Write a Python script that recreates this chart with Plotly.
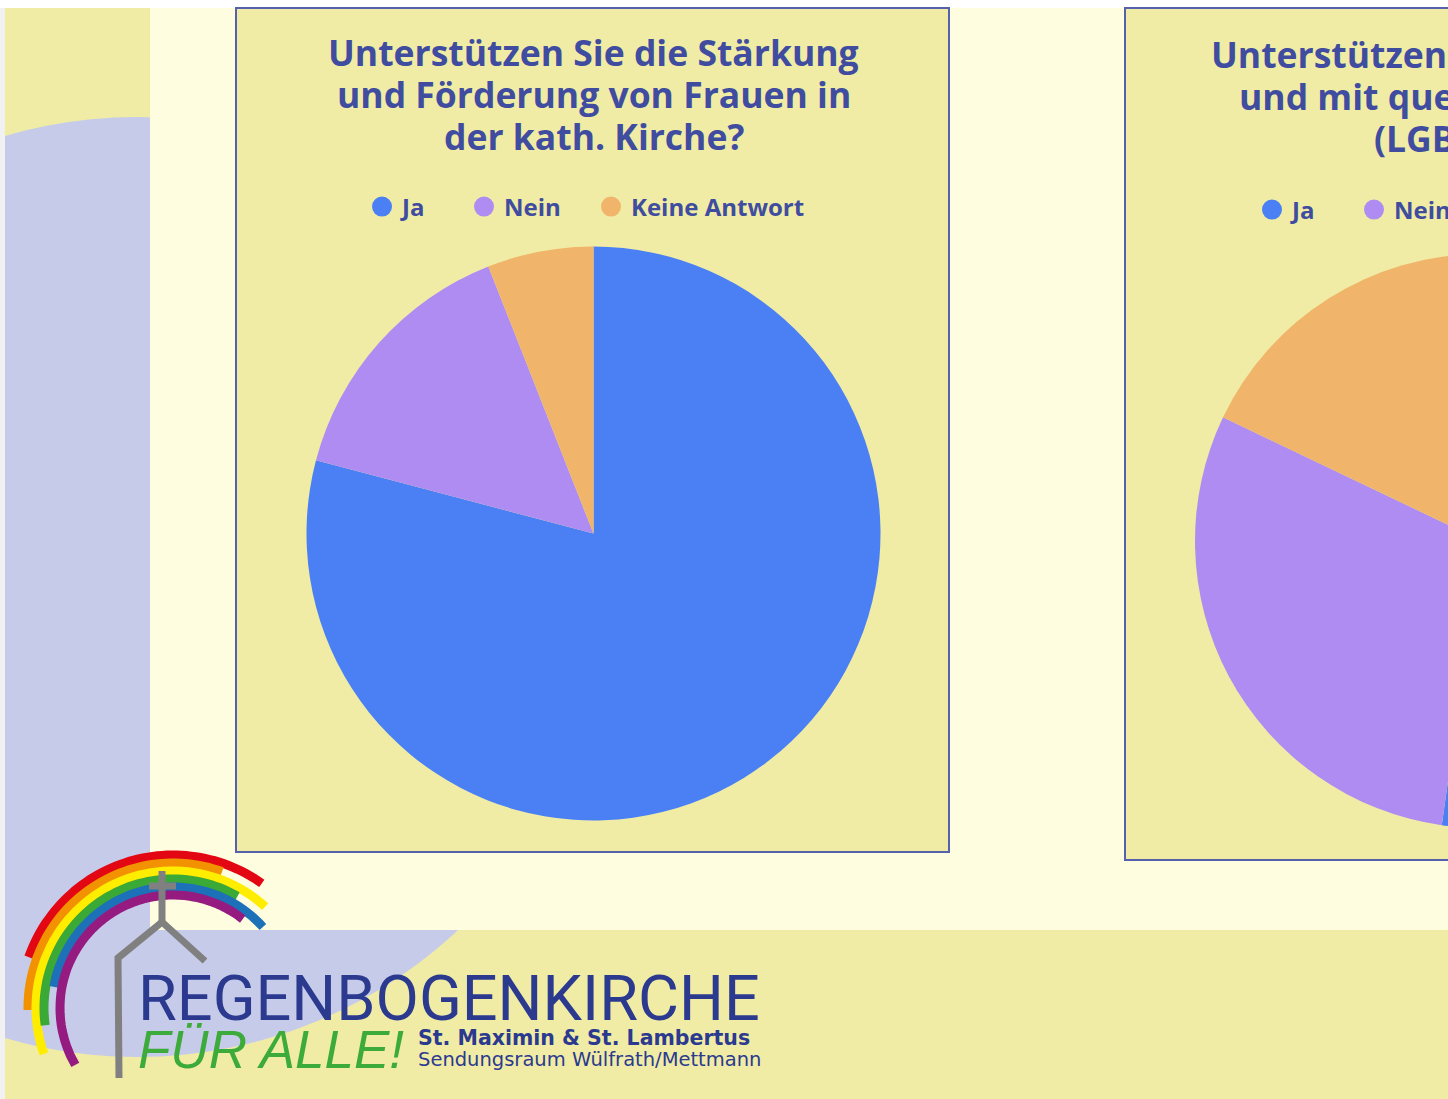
import numpy as np
import plotly.graph_objects as go

# ---------------- data ----------------
labels = ["Ja", "Nein", "Keine Antwort"]
values_frauen = [53, 10, 4]
values_queer = [35, 20, 12]
colors = ["#4b80f5", "#ae8cf2", "#f0b56a"]

title1_lines = ["Unterstützen Sie die Stärkung", "und Förderung von Frauen in", "der kath. Kirche?"]
title2_lines = ["Unterstützen Sie die Arbeit für", "und mit queeren Menschen", "(LGBTQIA+)?"]

logo_name = "REGENBOGENKIRCHE"
logo_slogan = "FÜR ALLE!"
logo_line1 = "St. Maximin & St. Lambertus"
logo_line2 = "Sendungsraum Wülfrath/Mettmann"

# ---------------- canvas ----------------
W, H = 1840, 1099
TITLE_C = "#3f4c9f"
YEL = "#f0eca5"
CREAM = "#fffddf"
LAV = "#c7cbea"
BORDER = "#5661ae"
FONT = "Open Sans"


def px_x(v):
    return v / W


def px_y(v):
    return 1 - v / H


fig = go.Figure()

# pies
def add_pie(vals, cx, cy, r):
    fig.add_trace(go.Pie(
        labels=labels, values=vals, sort=False, direction="clockwise", rotation=0,
        marker=dict(colors=colors, line=dict(width=0)),
        textinfo="none", showlegend=False,
        domain=dict(x=[px_x(cx - r), px_x(cx + r)], y=[px_y(cy + r), px_y(cy - r)]),
    ))

add_pie(values_frauen, 593.5, 533.5, 287)
add_pie(values_queer, 1482, 541, 287)

# legends (one legend per entry for exact placement)
legend_layouts = {}
leg_font = dict(family=FONT, size=24, color=TITLE_C, weight=700)
def add_legend_items(centers, ly, start_idx):
    idx = start_idx
    for lab, col, cxm in zip(labels, colors, centers):
        name = "legend" if idx == 1 else f"legend{idx}"
        fig.add_trace(go.Scatter(
            x=[None], y=[None], mode="markers", name=lab, legend=name, showlegend=True,
            marker=dict(size=22, color=col, line=dict(width=4, color=col)), hoverinfo="skip",
        ))
        legend_layouts[name] = dict(
            x=px_x(cxm - 20), y=px_y(ly), xanchor="left", yanchor="middle",
            orientation="h", bgcolor="rgba(0,0,0,0)", borderwidth=0,
            font=leg_font, itemsizing="trace", itemclick=False, itemdoubleclick=False,
        )
        idx += 1
    return idx

nxt = add_legend_items([382, 484, 611], 207, 1)
add_legend_items([1272, 1374, 1501], 210, nxt)

shapes = []
def rect(x0, y0, x1, y1, fill, line_color=None, lw=0, layer="below"):
    shapes.append(dict(type="rect", xref="x", yref="y", x0=x0, y0=y0, x1=x1, y1=y1,
                       fillcolor=fill, line=dict(width=lw, color=line_color or fill), layer=layer))

rect(5, 8, W, H, YEL)
shapes.append(dict(type="circle", xref="x", yref="y", x0=137 - 470, x1=137 + 470,
                   y0=587 - 470, y1=587 + 470, fillcolor=LAV, line=dict(width=0), layer="below"))
rect(0, 0, 5, H, "#f1f1f1")
rect(0, 0, W, 8, "#ffffff")
rect(150, 8, W, 930, CREAM)
rect(236, 8, 949, 852, YEL, BORDER, 2)
rect(1125, 8, 1838, 860, YEL, BORDER, 2)

# rainbow logo arcs (radius, start angle, end angle, colour)
arc_cx, arc_cy = 173, 1008
arcs = [
    (153, 54.5, 160.6, "#e30613"),
    (145, 70.2, 180.8, "#f39200"),
    (137, 47.7, 199.5, "#ffed00"),
    (129, 60.0, 187.7, "#3aa935"),
    (121, 42.0, 169.9, "#1d71b8"),
    (113, 51.9, 210.2, "#951b81"),
]
for r, a0, a1, col in arcs:
    t = np.radians(np.linspace(a0, a1, 60))
    xs = arc_cx + r * np.cos(t)
    ys = arc_cy - r * np.sin(t)
    path = "M " + " L ".join(f"{x:.1f},{y:.1f}" for x, y in zip(xs, ys))
    shapes.append(dict(type="path", xref="x", yref="y", path=path,
                       line=dict(color=col, width=9), layer="above"))

GRAY = "#808080"
shapes.append(dict(type="path", xref="x", yref="y", path="M 162,871 L 162,922",
                   line=dict(color=GRAY, width=7), layer="above"))
shapes.append(dict(type="path", xref="x", yref="y", path="M 149,886 L 176,886",
                   line=dict(color=GRAY, width=7), layer="above"))
shapes.append(dict(type="path", xref="x", yref="y",
                   path="M 205,961 L 162,922 L 118,958 L 119,1078",
                   line=dict(color=GRAY, width=7), layer="above"))

annotations = []
def txt(s, x, y, size, color, family=FONT, weight=700, xanchor="center", style="normal", yanchor="middle"):
    annotations.append(dict(text=s, x=x, y=y, xref="x", yref="y", xanchor=xanchor, yanchor=yanchor,
                            showarrow=False, borderpad=0,
                            font=dict(family=family, size=size, color=color,
                                      weight=weight, style=style)))

for line, yy in zip(title1_lines, [52, 94, 136]):
    txt(line, 593.5, yy, 35.5, TITLE_C)
for line, yy in zip(title2_lines, [54, 96, 138]):
    txt(line, 1482, yy, 35.5, TITLE_C)

txt(logo_name, 137, 998, 63, "#2b3a8f", family="Roboto", weight=400, xanchor="left")
txt(logo_slogan, 137, 1049, 53, "#3cab3a", family="Liberation Sans", weight=400, xanchor="left", style="italic")
txt(logo_line1, 417, 1038, 20.5, "#2b3a8f", family="DejaVu Sans", weight=700, xanchor="left")
txt(logo_line2, 417, 1059, 19.5, "#2b3a8f", family="DejaVu Sans", weight=400, xanchor="left")

fig.update_layout(
    width=W, height=H, margin=dict(l=0, r=0, t=0, b=0, pad=0),
    paper_bgcolor="white", plot_bgcolor="rgba(0,0,0,0)",
    xaxis=dict(range=[0, W], visible=False, fixedrange=True, domain=[0, 1]),
    yaxis=dict(range=[H, 0], visible=False, fixedrange=True, domain=[0, 1]),
    shapes=shapes, annotations=annotations,
    **legend_layouts,
)

fig.write_html("out.html", post_script="document.documentElement.style.overflow='hidden';document.body.style.overflow='hidden';document.body.style.margin='0';")
